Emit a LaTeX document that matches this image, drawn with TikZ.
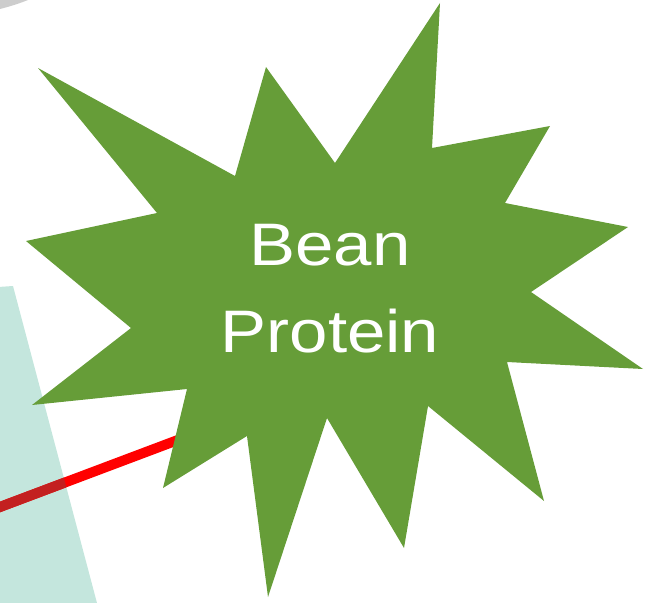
\documentclass[tikz,border=0pt]{standalone}
\usepackage{fontspec}
\setmainfont{Liberation Sans}
\definecolor{stargreen}{RGB}{102,157,56}
\definecolor{tealbg}{RGB}{196,230,221}
\definecolor{linered}{RGB}{255,0,0}
\definecolor{darkred}{RGB}{195,32,32}
\definecolor{cornergray}{RGB}{205,205,205}
\begin{document}
\begin{tikzpicture}[x=1pt,y=-1pt,
  startext/.style={text=white,font=\fontsize{60}{72}\selectfont,inner sep=0pt,anchor=base},
  redline/.style={line width=10pt}]
\useasboundingbox (0,0) rectangle (663,602);
% corner gray
\fill[cornergray] (0,0) -- (28,0) .. controls (18,4) and (8,7) .. (0,9) -- cycle;
% teal band
\fill[tealbg] (-2,287) -- (13,286) -- (97,603) -- (-2,603) -- cycle;
% red connector
\coordinate (redstart) at (-20,514.5);
\coordinate (redend) at (215,426);
\draw[redline,linered] (redstart) -- (redend);
\begin{scope}
  \clip (-2,287) -- (13,286) -- (97,603) -- (-2,603) -- cycle;
  \draw[redline,darkred] (redstart) -- (redend);
\end{scope}
% star
\fill[stargreen] (440,3) -- (432,148) -- (550,126) -- (505,203) -- (628,227) -- (531,292)
  -- (643,369) -- (507,362) -- (544,501) -- (428,406) -- (404,548) -- (327,418)
  -- (268,597) -- (247,436) -- (163,488) -- (187,389) -- (32,405) -- (131,328)
  -- (26,241) -- (157,213) -- (38,68) -- (235,176) -- (266,67) -- (335,163) -- cycle;
\node[startext] (bean) at (330,265) {\scalebox{1.15}[1]{Bean}};
\node[startext] (protein) at (330,352) {\scalebox{1.15}[1]{Protein}};
\end{tikzpicture}
\end{document}
